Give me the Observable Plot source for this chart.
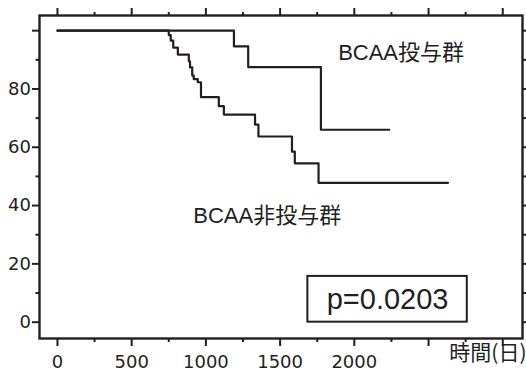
<!DOCTYPE html>
<html>
<head>
<meta charset="utf-8">
<script src="https://cdn.jsdelivr.net/npm/d3@7"></script>
<script src="https://cdn.jsdelivr.net/npm/@observablehq/plot@0.6"></script>
<style>
  body { margin: 0; background: #fff; }
  svg { display: block; }
</style>
</head>
<body>
<div id="chart"></div>
<script>
// Kaplan–Meier curves (days, % surviving)
const treatedDays = [0, 1189, 1285, 1775, 2235];
const treatedSurv = [100, 94.6, 87.5, 66.0, 66.0];

const untreatedDays = [0, 750, 763, 780, 811, 885, 893, 908, 918, 945, 967, 1087, 1121, 1331, 1354, 1580, 1599, 1759, 2631];
const untreatedSurv = [100, 98.5, 96.6, 94.2, 91.8, 89.5, 87.4, 84.6, 83.4, 82.3, 77.2, 74.1, 71.2, 67.8, 63.7, 58.5, 54.5, 47.8, 47.8];

const xMajor = [0, 500, 1000, 1500, 2000, 2500, 3000];
const xMinor = [250, 750, 1250, 1750, 2250, 2750];
const xLabelMax = 2000;
const yMajor = [0, 20, 40, 60, 80, 100];
const yMinor = [10, 30, 50, 70, 90];
const yLabelMax = 80;

const groupLabels = [
  {text: "BCAA投与群", t: 2315, s: 92.4},
  {text: "BCAA非投与群", t: 1413, s: 36.5}
];
const pText = "p=0.0203";
const pBox = [{t1: 1687, t2: 2761, s1: 0, s2: 15.7}];
const xTitle = "時間(日)";

const ink = "#231f20";
const rows = [
  ...treatedDays.map((t, i) => ({group: "treated", t, s: treatedSurv[i]})),
  ...untreatedDays.map((t, i) => ({group: "untreated", t, s: untreatedSurv[i]}))
];

const chart = Plot.plot({
  width: 526,
  height: 372,
  marginLeft: 39,
  marginRight: 4,
  marginTop: 15,
  marginBottom: 34,
  style: {fontFamily: "'DejaVu Sans', sans-serif", fontSize: "18px", color: ink, background: "#fff"},
  x: {domain: [-121, 3133], label: null},
  y: {domain: [-5.6, 105.2], label: null},
  marks: [
    Plot.axisX(xMajor, {anchor: "bottom", tickSize: 8, tickPadding: 9, strokeWidth: 2, stroke: ink, fill: ink,
      tickFormat: d => d <= xLabelMax ? String(d) : "", fontSize: 18}),
    Plot.axisX(xMinor, {anchor: "bottom", tickSize: 4, strokeWidth: 2, stroke: ink, tickFormat: () => ""}),
    Plot.axisX(xMajor, {anchor: "top", tickSize: 8, strokeWidth: 2, stroke: ink, tickFormat: () => ""}),
    Plot.axisX(xMinor, {anchor: "top", tickSize: 4, strokeWidth: 2, stroke: ink, tickFormat: () => ""}),
    Plot.axisY(yMajor, {anchor: "left", tickSize: 7, tickPadding: 1.5, strokeWidth: 2, stroke: ink, fill: ink,
      tickFormat: d => d <= yLabelMax ? String(d) : "", fontSize: 18}),
    Plot.axisY(yMinor, {anchor: "left", tickSize: 3.5, strokeWidth: 2, stroke: ink, tickFormat: () => ""}),
    Plot.axisY(yMajor, {anchor: "right", tickSize: 7, strokeWidth: 2, stroke: ink, tickFormat: () => ""}),
    Plot.axisY(yMinor, {anchor: "right", tickSize: 3.5, strokeWidth: 2, stroke: ink, tickFormat: () => ""}),
    Plot.frame({stroke: ink, strokeWidth: 2.4}),
    Plot.line(rows, {x: "t", y: "s", z: "group", curve: "step-after", stroke: ink, strokeWidth: 2.2}),
    Plot.text(groupLabels, {x: "t", y: "s", text: "text", fill: ink, fontSize: 22,
      fontFamily: "'Liberation Sans', 'Noto Sans CJK JP', sans-serif"}),
    Plot.rect(pBox, {x1: "t1", x2: "t2", y1: "s1", y2: "s2", fill: "none", stroke: ink, strokeWidth: 2}),
    Plot.text(pBox, {x: d => (d.t1 + d.t2) / 2, y: d => (d.s1 + d.s2) / 2, text: () => pText, fill: ink,
      fontSize: 29, fontFamily: "'Liberation Sans', sans-serif"}),
    Plot.text([xTitle], {frameAnchor: "bottom-right", textAnchor: "end", dx: 4, dy: 21, fill: ink,
      fontSize: 21, fontFamily: "'Noto Sans CJK JP', sans-serif"})
  ]
});
document.getElementById("chart").appendChild(chart);
</script>
</body>
</html>
